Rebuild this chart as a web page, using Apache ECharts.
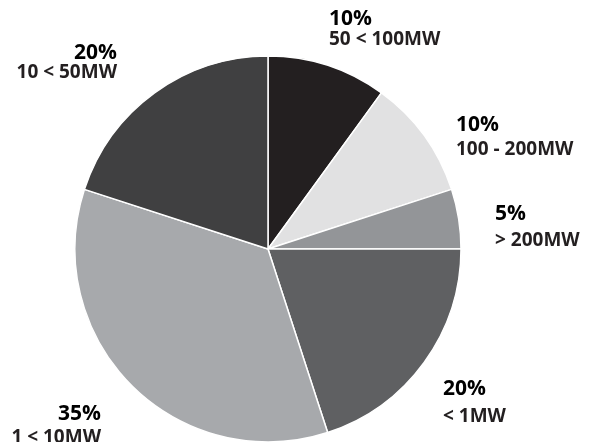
<!DOCTYPE html>
<html>
<head>
<meta charset="utf-8">
<script src="https://cdn.jsdelivr.net/npm/echarts@6/dist/echarts.min.js"></script>
<style>
  html, body { margin: 0; padding: 0; background: #fff; }
  #chart { width: 592px; height: 442px; }
</style>
</head>
<body>
<div id="chart"></div>
<script>
// capacity classes, clockwise from 12 o'clock
const categories = ["50 < 100MW", "100 - 200MW", "> 200MW", "< 1MW", "1 < 10MW", "10 < 50MW"];
const shares = [10, 10, 5, 20, 35, 20];
const colors = ["#231f20", "#e1e1e2", "#939598", "#5f6062", "#a7a9ac", "#404041"];

// label placement: left/right anchor x, top of the percent line, line gap
const labelPos = [
  { x: 329, top: 11, gap: 21, align: "left" },
  { x: 456, top: 117, gap: 25, align: "left" },
  { x: 495, top: 206, gap: 27, align: "left" },
  { x: 443, top: 381, gap: 28, align: "left" },
  { x: 101, top: 406, gap: 24, align: "right" },
  { x: 117, top: 45, gap: 20, align: "right" }
];

const chart = echarts.init(document.getElementById("chart"));

chart.setOption({
  animation: false,
  series: [{
    type: "pie",
    center: [268, 249],
    radius: 193,
    startAngle: 90,
    clockwise: true,
    avoidLabelOverlap: false,
    itemStyle: { borderColor: "#fff", borderWidth: 1.5 },
    emphasis: { disabled: true },
    labelLine: { show: false },
    label: {
      show: true,
      position: "outside",
      formatter: p => "{p|" + p.value + "%}\n{c|" + p.name + "}",
      rich: {
        p: { fontFamily: "Open Sans", fontWeight: "bold", fontSize: 21, color: "#000" },
        c: { fontFamily: "Open Sans", fontWeight: "bold", fontSize: 19, color: "#231f20" }
      }
    },
    labelLayout: params => {
      const l = labelPos[params.dataIndex];
      return { x: l.x, y: l.top - l.gap / 2 + 8, align: l.align, verticalAlign: "top" };
    },
    data: categories.map((name, i) => ({
      name: name,
      value: shares[i],
      itemStyle: { color: colors[i] },
      label: {
        rich: {
          p: { lineHeight: labelPos[i].gap, align: labelPos[i].align },
          c: { lineHeight: labelPos[i].gap, align: labelPos[i].align }
        }
      }
    }))
  }]
});
</script>
</body>
</html>
